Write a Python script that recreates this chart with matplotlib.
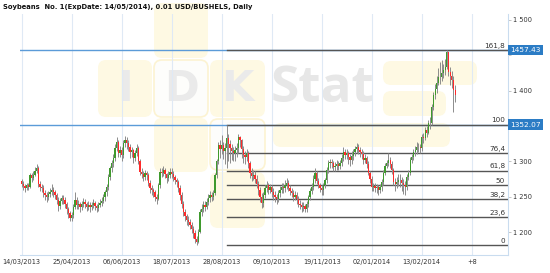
import matplotlib
matplotlib.use("Agg")
import matplotlib.pyplot as plt
import matplotlib.transforms as mtransforms
from matplotlib.patches import FancyBboxPatch
import numpy as np

title = "Soybeans  No. 1(ExpDate: 14/05/2014), 0.01 USD/BUSHELS, Daily"

tick_pos = [0, 30, 60, 90, 120, 150, 180, 210, 240, 270]
tick_labels = ["14/03/2013", "25/04/2013", "06/06/2013", "18/07/2013", "28/08/2013",
               "09/10/2013", "19/11/2013", "02/01/2014", "13/02/2014", "+8"]
y_ticks = [1200, 1250, 1300, 1350, 1400, 1450, 1500]
y_hidden = [1350, 1450]  # these sit under the price boxes

first_open = 1272
closes = [
    1268, 1265, 1262, 1266, 1264, 1280, 1276, 1281, 1287, 1290,
    1268, 1264, 1262, 1255, 1252, 1249, 1254, 1257, 1260, 1256,
    1252, 1246, 1237, 1244, 1248, 1245, 1240, 1233, 1227, 1220,
    1224, 1236, 1245, 1238, 1240, 1235, 1239, 1242, 1240, 1236,
    1238, 1235, 1238, 1241, 1237, 1234, 1238, 1241, 1244, 1249,
    1256, 1264, 1278, 1290, 1297, 1305, 1319, 1327, 1312, 1316,
    1309, 1326, 1330, 1326, 1320, 1313, 1316, 1305, 1312, 1319,
    1300, 1285, 1282, 1278, 1283, 1280, 1270, 1262, 1259, 1256,
    1250, 1247, 1266, 1285, 1283, 1288, 1282, 1276, 1280, 1285,
    1282, 1278, 1274, 1271, 1262, 1252, 1240, 1228, 1222, 1217,
    1214, 1210, 1204, 1199, 1190, 1186, 1200, 1228, 1233, 1238,
    1236, 1242, 1248, 1252, 1250, 1255, 1281, 1300, 1323, 1318,
    1323, 1315, 1319, 1333, 1325, 1319, 1314, 1312, 1316, 1319,
    1334, 1330, 1318, 1309, 1306, 1312, 1298, 1283, 1279, 1281,
    1275, 1268, 1259, 1250, 1241, 1252, 1262, 1266, 1260, 1263,
    1256, 1252, 1250, 1247, 1255, 1260, 1264, 1262, 1267, 1269,
    1262, 1258, 1255, 1250, 1252, 1247, 1240, 1238, 1235, 1237,
    1233, 1240, 1249, 1258, 1264, 1275, 1283, 1272, 1266, 1262,
    1259, 1266, 1273, 1288, 1297, 1299, 1297, 1292, 1294, 1296,
    1293, 1297, 1305, 1313, 1309, 1312, 1306, 1302, 1308, 1313,
    1318, 1320, 1316, 1313, 1310, 1302, 1305, 1296, 1283, 1275,
    1264, 1265, 1262, 1263, 1259, 1263, 1271, 1284, 1294, 1297,
    1302, 1296, 1288, 1271, 1268, 1271, 1274, 1273, 1269, 1266,
    1264, 1278, 1283, 1302, 1306, 1313, 1316, 1320, 1320, 1319,
    1334, 1333, 1344, 1340, 1354, 1354, 1377, 1394, 1402, 1411,
    1419, 1419, 1425, 1429, 1433, 1455, 1426, 1420, 1415, 1401, 1394,
]
highs = [
    1275, 1272, 1268, 1270, 1269, 1284, 1283, 1286, 1292, 1296,
    1293, 1272, 1268, 1266, 1259, 1256, 1258, 1262, 1268, 1263,
    1260, 1255, 1249, 1248, 1253, 1252, 1249, 1243, 1236, 1230,
    1229, 1240, 1256, 1249, 1246, 1243, 1244, 1248, 1247, 1243,
    1244, 1242, 1243, 1247, 1244, 1240, 1243, 1247, 1250, 1254,
    1260, 1268, 1282, 1293, 1302, 1310, 1324, 1335, 1330, 1322,
    1320, 1330, 1336, 1334, 1330, 1324, 1320, 1318, 1316, 1325,
    1322, 1303, 1290, 1286, 1288, 1286, 1283, 1274, 1266, 1262,
    1259, 1254, 1270, 1290, 1291, 1294, 1290, 1284, 1286, 1290,
    1290, 1286, 1281, 1277, 1274, 1266, 1256, 1244, 1232, 1226,
    1222, 1219, 1214, 1208, 1203, 1195, 1204, 1232, 1240, 1244,
    1244, 1248, 1254, 1258, 1257, 1260, 1284, 1304, 1328, 1330,
    1337, 1328, 1326, 1352.07, 1338, 1330, 1324, 1320, 1322, 1326,
    1338, 1336, 1332, 1322, 1314, 1318, 1314, 1300, 1290, 1288,
    1286, 1280, 1272, 1264, 1255, 1256, 1266, 1272, 1270, 1268,
    1266, 1262, 1258, 1254, 1260, 1265, 1270, 1269, 1274, 1276,
    1273, 1266, 1262, 1259, 1258, 1256, 1251, 1246, 1242, 1242,
    1240, 1244, 1253, 1262, 1269, 1280, 1290, 1286, 1276, 1270,
    1266, 1270, 1277, 1292, 1302, 1304, 1303, 1300, 1299, 1302,
    1300, 1302, 1310, 1320, 1318, 1318, 1314, 1310, 1314, 1318,
    1322, 1326, 1324, 1320, 1318, 1314, 1310, 1308, 1300, 1287,
    1279, 1270, 1269, 1268, 1266, 1268, 1275, 1288, 1298, 1302,
    1312, 1306, 1300, 1290, 1276, 1278, 1282, 1282, 1278, 1275,
    1272, 1282, 1288, 1306, 1311, 1318, 1322, 1327, 1326, 1324,
    1338, 1340, 1348, 1350, 1358, 1362, 1381, 1398, 1410, 1420,
    1432, 1440, 1443, 1438, 1445, 1457.43, 1456, 1433, 1428, 1420, 1408,
]
lows = [
    1263, 1260, 1257, 1259, 1259, 1262, 1271, 1273, 1279, 1283,
    1264, 1258, 1256, 1249, 1246, 1243, 1245, 1250, 1252, 1250,
    1247, 1240, 1230, 1233, 1240, 1239, 1234, 1226, 1220, 1215,
    1216, 1220, 1232, 1233, 1233, 1229, 1231, 1235, 1234, 1230,
    1231, 1229, 1231, 1234, 1231, 1228, 1230, 1235, 1237, 1241,
    1244, 1251, 1260, 1274, 1285, 1292, 1300, 1314, 1306, 1306,
    1300, 1305, 1320, 1318, 1314, 1305, 1306, 1298, 1300, 1308,
    1296, 1280, 1276, 1272, 1274, 1273, 1265, 1255, 1252, 1249,
    1244, 1240, 1245, 1262, 1278, 1279, 1277, 1270, 1272, 1276,
    1276, 1272, 1268, 1264, 1257, 1246, 1234, 1222, 1216, 1210,
    1208, 1204, 1198, 1192, 1185, 1181.58, 1184, 1198, 1222, 1228,
    1230, 1232, 1238, 1243, 1244, 1246, 1252, 1276, 1296, 1305,
    1310, 1304, 1296, 1290, 1300, 1298, 1302, 1300, 1300, 1306,
    1312, 1320, 1305, 1298, 1296, 1300, 1290, 1276, 1272, 1273,
    1270, 1262, 1252, 1243, 1234, 1236, 1248, 1256, 1254, 1255,
    1250, 1246, 1243, 1240, 1243, 1250, 1255, 1255, 1257, 1261,
    1258, 1252, 1249, 1244, 1245, 1240, 1235, 1232, 1229, 1230,
    1228, 1229, 1236, 1245, 1254, 1260, 1270, 1268, 1262, 1256,
    1252, 1253, 1262, 1270, 1284, 1290, 1290, 1286, 1287, 1288,
    1288, 1289, 1293, 1300, 1303, 1303, 1296, 1294, 1296, 1302,
    1308, 1312, 1310, 1306, 1304, 1296, 1297, 1290, 1280, 1270,
    1258, 1258, 1256, 1255, 1253, 1255, 1258, 1267, 1280, 1290,
    1293, 1290, 1282, 1266, 1258, 1262, 1265, 1263, 1258, 1254,
    1253, 1260, 1274, 1280, 1298, 1302, 1308, 1311, 1313, 1312,
    1315, 1326, 1330, 1334, 1338, 1346, 1352, 1373, 1388, 1396,
    1408, 1410, 1414, 1418, 1422, 1430, 1420, 1408, 1404, 1370, 1384,
]

fib_names = ["161,8", "100", "76,4", "61,8", "50", "38,2", "23,6", "0"]
fib_ratios = [1.618, 1.0, 0.764, 0.618, 0.5, 0.382, 0.236, 0.0]
fib_low = 1181.58
fib_high = 1352.07
fib_start = 123
marked = [1457.43, 1352.07]

closes = np.array(closes)
opens = np.concatenate([[first_open], closes[:-1]])
highs = np.array(highs)
lows = np.array(lows)
x = np.arange(len(closes))

fig = plt.figure(figsize=(5.5, 2.73), dpi=100)
fig.patch.set_facecolor("white")
ax = fig.add_axes([20 / 550, 18 / 273, 488 / 550, 241 / 273])
ax.set_facecolor("none")
ax.set_xlim(-1.0, 291.7)
ax.set_ylim(1167.5, 1508.4)

# watermark (pixel boxes, measured from top-left)
yel = "#fef9e3"
def wm_box(x0, y0, x1, y1, fc=yel, ec="none"):
    p = FancyBboxPatch((x0 / 100, (273 - y1) / 100), (x1 - x0) / 100, (y1 - y0) / 100,
                       boxstyle="round,pad=0,rounding_size=0.08",
                       transform=fig.dpi_scale_trans, fc=fc, ec=ec, lw=1.2, zorder=-2)
    fig.add_artist(p)

wm_box(98, 60, 152, 117)
wm_box(154, 60, 208, 117, fc="#fdfdfb", ec="#fcf3d2")
wm_box(154, 3, 208, 58)
wm_box(154, 118, 208, 172)
wm_box(210, 60, 265, 117)
wm_box(210, 119, 265, 170, fc="#fdfdfb", ec="#fcf3d2")
wm_box(210, 172, 265, 228)
wm_box(383, 61, 477, 85)
wm_box(383, 91, 446, 116)
wm_box(273, 123, 450, 147)
for lx, s in [(125, "I"), (181, "D"), (237, "K")]:
    fig.text(lx / 550, 1 - 89 / 273, s, ha="center", va="center", fontsize=30,
             fontweight="bold", color="#eaeaea", zorder=-1)
fig.text(323 / 550, 1 - 89 / 273, "Stat", ha="center", va="center", fontsize=37,
         fontweight="bold", family="Open Sans", color="#e7e7e7", zorder=-1)

# grid
for p in tick_pos:
    ax.axvline(p, color="#dfe9f5", lw=0.8, zorder=0.5)

# price marks
for pr in marked:
    ax.axhline(pr, color="#5b9bd8", lw=1.0, zorder=1)

# fibonacci
span = fib_high - fib_low
for name, r in zip(fib_names, fib_ratios):
    lev = fib_low + r * span
    ax.plot([fib_start, 291.7], [lev, lev], color="#555555", lw=1.0, zorder=1.5)
    ax.text(290, lev + 1.5, name, ha="right", va="bottom", fontsize=5.2, color="#333333")

# candles
ax.vlines(x, lows, highs, color="#8c8c8c", lw=0.7, zorder=2)
up = closes >= opens
colors = np.where(up, "#3f9a2d", "#ff2a2a")
ax.bar(x, np.abs(closes - opens), bottom=np.minimum(opens, closes), width=0.75,
       color=colors, zorder=3)

# axes styling
for s in ["top", "left"]:
    ax.spines[s].set_visible(False)
ax.spines["bottom"].set_color("#c9dcef")
ax.spines["right"].set_color("#c9dcef")
ax.yaxis.tick_right()
ax.set_yticks(y_ticks)
ax.set_yticklabels(["" if v in y_hidden else f"{v:,}".replace(",", " ") for v in y_ticks])
ax.tick_params(axis="y", length=2, width=0.6, color="#bbbbbb", labelsize=4.8,
               labelcolor="#333333", pad=1.5)
ax.set_xticks(tick_pos)
ax.set_xticklabels(tick_labels)
ax.tick_params(axis="x", length=0, labelsize=4.8, labelcolor="#333333", pad=3)

blend = mtransforms.blended_transform_factory(ax.transAxes, ax.transData)
for pr in marked:
    ax.annotate(f"{pr:.2f}", xy=(1, pr), xycoords=blend, xytext=(1.8, 0),
                textcoords="offset points", ha="left", va="center", fontsize=5.3,
                color="white", annotation_clip=False, zorder=5,
                bbox=dict(boxstyle="square,pad=0.3", fc="#2b7cc5", ec="none"))

fig.text(3 / 550, 1 - 7 / 273, title, ha="left", va="center", fontsize=4.9,
         fontweight="bold", color="#111111")

fig.savefig("out.png", dpi=100)
